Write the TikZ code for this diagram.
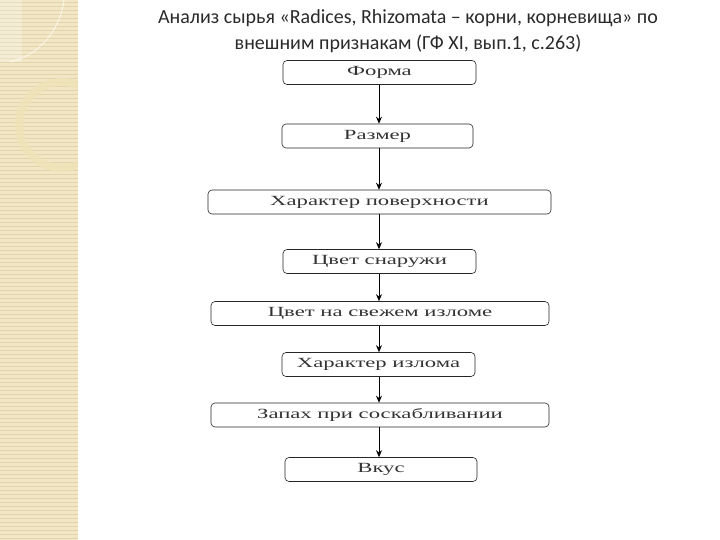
\documentclass[tikz,border=0pt]{standalone}
\usepackage{fontspec}
\setmainfont{Liberation Serif}
\newfontfamily\boxfont[FakeStretch=1.62]{Liberation Serif}
\newfontfamily\titlefont{Carlito}
\usetikzlibrary{arrows.meta}
\definecolor{stripe}{HTML}{F1E6C6}
\definecolor{stripeline}{HTML}{E2D3A8}
\definecolor{ringcol}{HTML}{EFE3B8}
\definecolor{titlecol}{HTML}{2A2A2A}
\tikzset{
  stepbox/.style={draw=black!85, line width=0.6pt, rounded corners=4pt, inner sep=0pt,
    minimum height=24pt, font=\boxfont\fontsize{14}{16}\selectfont, text=black!80},
  flowarrow/.style={draw=black, line width=0.8pt, -{Stealth[length=7pt,width=6pt]}}
}
\begin{document}
\begin{tikzpicture}[x=1pt,y=-1pt]
\useasboundingbox (0,0) rectangle (720,540);
% left decorative stripe
\fill[stripe] (0,0) rectangle (78,540);
\foreach \yy in {2,6,...,538} { \draw[stripeline, line width=0.5pt] (0,\yy) -- (78,\yy); }
\fill[white, opacity=0.25] (0,0) rectangle (22,62);
\draw[white, opacity=0.6, line width=1pt] (10,62) .. controls (40,55) and (60,30) .. (64,0);
\begin{scope}
\clip (0,0) rectangle (78,540);
\draw[ringcol, line width=8pt, opacity=0.8] (62,125) circle[radius=43];
\end{scope}
% title
\node[font=\titlefont\fontsize{20}{26}\selectfont, text=titlecol, align=center] (title) at (408,31)
  {Анализ сырья «Radices, Rhizomata – корни, корневища» по\\внешним признакам (ГФ XI, вып.1, с.263)};
% boxes
\node[stepbox, minimum width=193pt] (b1) at (379.5,72.5) {Форма};
\node[stepbox, minimum width=191pt] (b2) at (377.5,136) {Размер};
\node[stepbox, minimum width=343pt] (b3) at (379.5,202) {Характер поверхности};
\node[stepbox, minimum width=193pt] (b4) at (379.5,261.5) {Цвет снаружи};
\node[stepbox, minimum width=338pt] (b5) at (380,313.5) {Цвет на свежем изломе};
\node[stepbox, minimum width=193pt] (b6) at (378.5,364.5) {Характер излома};
\node[stepbox, minimum width=338pt] (b7) at (380,415) {Запах при соскабливании};
\node[stepbox, minimum width=192pt] (b8) at (381,469.5) {Вкус};
% arrows
\draw[flowarrow] (b1.south -| 379,0) -- (b2.north -| 379,0);
\draw[flowarrow] (b2.south -| 379,0) -- (b3.north -| 379,0);
\draw[flowarrow] (b3.south -| 379,0) -- (b4.north -| 379,0);
\draw[flowarrow] (b4.south -| 379,0) -- (b5.north -| 379,0);
\draw[flowarrow] (b5.south -| 379,0) -- (b6.north -| 379,0);
\draw[flowarrow] (b6.south -| 379,0) -- (b7.north -| 379,0);
\draw[flowarrow] (b7.south -| 379,0) -- (b8.north -| 379,0);
\end{tikzpicture}
\end{document}
